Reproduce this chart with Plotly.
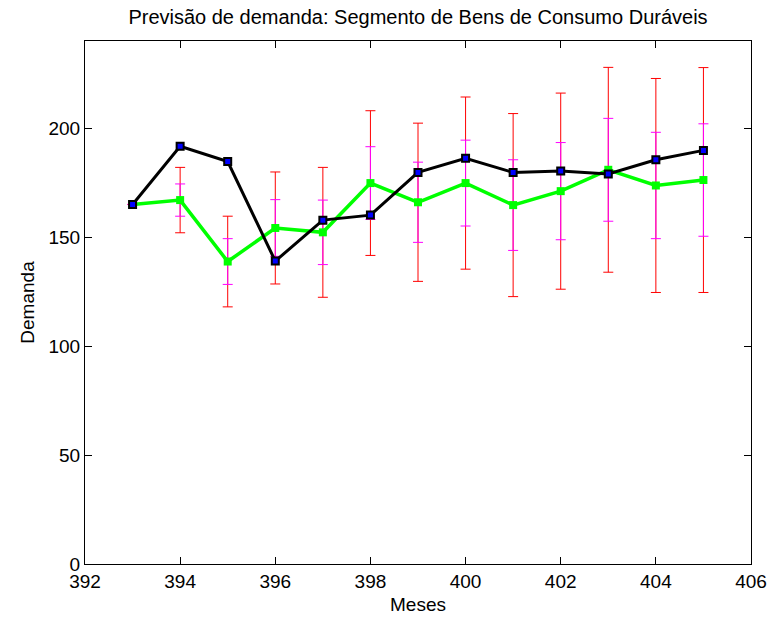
import plotly.graph_objects as go

# Months on the x axis
meses = [393, 394, 395, 396, 397, 398, 399, 400, 401, 402, 403, 404, 405]

# Observed demand
demanda_real = [165, 191.7, 184.7, 139, 157.8, 160.1, 179.7, 186.2, 179.7, 180.4, 179, 185.5, 189.8]

# Forecast demand
previsao = [165, 167, 138.8, 154.2, 152.2, 174.8, 166, 174.8, 164.7, 171.1, 180.9, 173.7, 176.2]

# Half-width of the wide (red) and narrow (magenta) forecast intervals
erro_largo = [0, 15, 20.8, 25.7, 29.8, 33.2, 36.3, 39.5, 42, 45, 47, 49.1, 51.6]
erro_estreito = [0, 7.4, 10.5, 13, 14.8, 16.7, 18.4, 19.7, 20.8, 22.3, 23.6, 24.4, 25.8]

x_ticks = [392, 394, 396, 398, 400, 402, 404, 406]
y_ticks = [0, 50, 100, 150, 200]

fonte = "Liberation Sans, Arial, sans-serif"

fig = go.Figure()

# Wide interval bars
fig.add_trace(go.Scatter(
    x=meses, y=previsao, mode="markers",
    marker=dict(size=1, color="rgba(0,0,0,0)"),
    error_y=dict(type="data", array=erro_largo, visible=True,
                 color="#ff0000", thickness=1, width=5),
    showlegend=False, hoverinfo="skip",
))

# Narrow interval bars
fig.add_trace(go.Scatter(
    x=meses, y=previsao, mode="markers",
    marker=dict(size=1, color="rgba(0,0,0,0)"),
    error_y=dict(type="data", array=erro_estreito, visible=True,
                 color="#ff00ff", thickness=1, width=5),
    showlegend=False, hoverinfo="skip",
))

# Forecast line
fig.add_trace(go.Scatter(
    x=meses, y=previsao, mode="lines+markers",
    line=dict(color="#00ff00", width=3.5),
    marker=dict(symbol="square", size=8, color="#00ff00"),
    showlegend=False,
))

# Observed line
fig.add_trace(go.Scatter(
    x=meses, y=demanda_real, mode="lines+markers",
    line=dict(color="#000000", width=3),
    marker=dict(symbol="square", size=7, color="#0000ff",
                line=dict(color="#000000", width=2)),
    showlegend=False,
))

fig.update_layout(
    width=769, height=621,
    margin=dict(l=85, r=18, t=41, b=57, autoexpand=False),
    paper_bgcolor="white", plot_bgcolor="white",
    font=dict(family=fonte, size=19, color="black"),
    title=dict(text="Previsão de demanda: Segmento de Bens de Consumo Duráveis",
               x=0.5, xref="paper", xanchor="center", y=0.972, yanchor="middle",
               font=dict(family=fonte, size=20, color="black")),
)

fig.update_xaxes(
    range=[392, 406], tickvals=x_ticks, ticktext=[str(v) for v in x_ticks],
    showgrid=False, zeroline=False, automargin=False,
    showline=True, linecolor="black", linewidth=1, mirror="ticks",
    ticks="inside", ticklen=7, tickcolor="black", tickwidth=1,
    tickfont=dict(size=19),
    title=dict(text="Meses", font=dict(size=19), standoff=6),
)

fig.update_yaxes(
    range=[0, 240], tickvals=y_ticks, ticktext=[str(v) for v in y_ticks],
    showgrid=False, zeroline=False, automargin=False,
    showline=True, linecolor="black", linewidth=1, mirror="ticks",
    ticks="inside", ticklen=7, tickcolor="black", tickwidth=1,
    tickfont=dict(size=19),
    title=dict(text="Demanda", font=dict(size=19), standoff=8),
)

fig.write_html("out.html")
